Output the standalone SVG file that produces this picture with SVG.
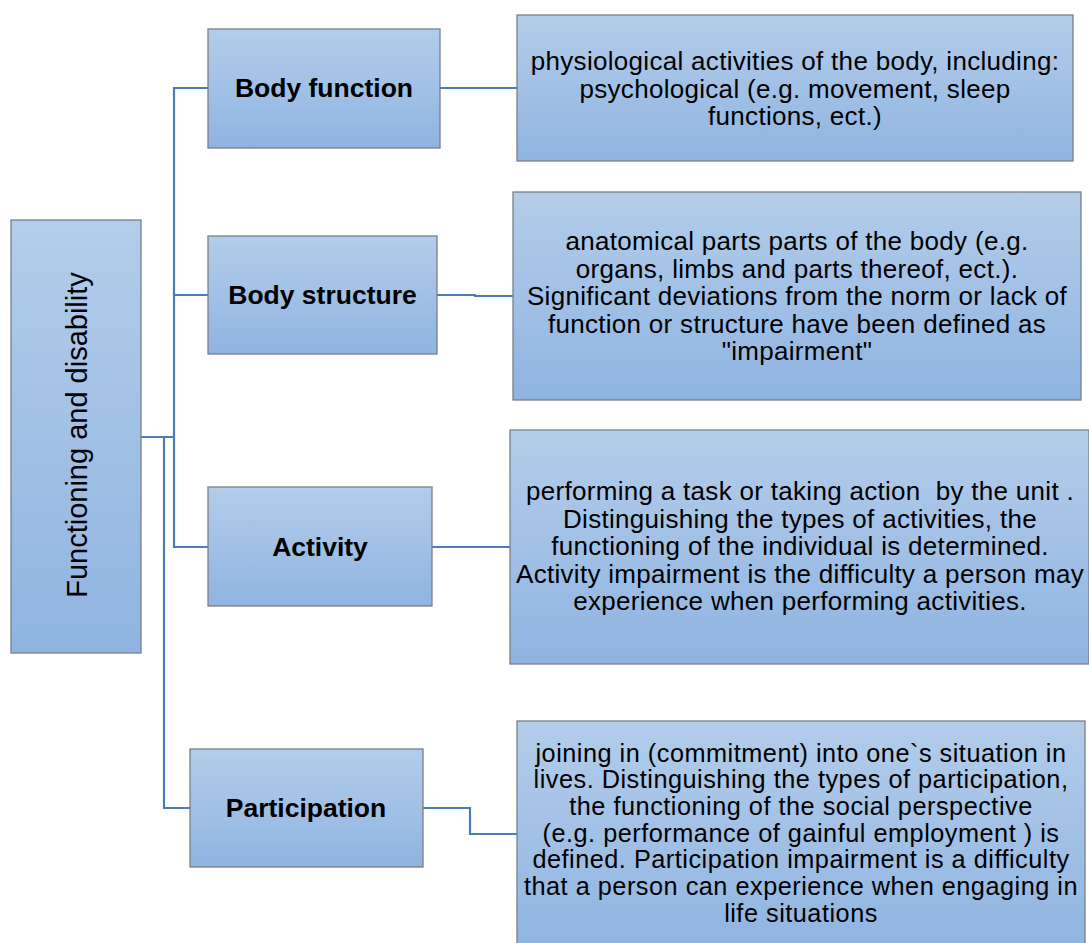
<svg xmlns="http://www.w3.org/2000/svg" width="1089" height="943" viewBox="0 0 1089 943">
<defs>
<linearGradient id="g" x1="0" y1="0" x2="0" y2="1">
<stop offset="0" stop-color="#b3cdea"/>
<stop offset="1" stop-color="#8fb4e1"/>
</linearGradient>
</defs>
<style>
.box{fill:url(#g);stroke:#7a7f86;stroke-width:1.3}
.lbl{font-family:"Liberation Sans",Arial,sans-serif;font-weight:bold;font-size:26.5px;fill:#000;text-anchor:middle}
.txt{font-family:"Liberation Sans",Arial,sans-serif;font-size:26px;letter-spacing:0.3px;fill:#000;text-anchor:middle}
.pt{font-size:25.3px;letter-spacing:0.5px}
.con{fill:none;stroke:#4a7db5;stroke-width:2.2}
</style>
<rect width="1089" height="943" fill="#fff"/>
<g id="connectors">
<polyline class="con" points="141,437 174,437"/>
<polyline class="con" points="208,88 174,88 174,547 208,547"/>
<polyline class="con" points="174,295 208,295"/>
<polyline class="con" points="164,437 164,808 190,808"/>
<polyline class="con" points="440,88 517,88"/>
<polyline class="con" points="437,295 475,295 475,296 513,296"/>
<polyline class="con" points="432,547 510,547"/>
<polyline class="con" points="423,808 470,808 470,834 517,834"/>
</g>
<g id="root">
<rect class="box" x="11" y="220" width="130" height="433"/>
<text class="txt" style="font-size:29px;letter-spacing:0" transform="translate(87,435) rotate(-90)" x="0" y="0">Functioning and disability</text>
</g>
<g id="body-function">
<rect class="box" x="208" y="29" width="232" height="119"/>
<text class="lbl" x="324" y="97">Body function</text>
</g>
<g id="body-structure">
<rect class="box" x="208" y="236" width="229" height="118"/>
<text class="lbl" x="322.5" y="304">Body structure</text>
</g>
<g id="activity">
<rect class="box" x="208" y="487" width="224" height="119"/>
<text class="lbl" x="320" y="556">Activity</text>
</g>
<g id="participation">
<rect class="box" x="190" y="749" width="233" height="118"/>
<text class="lbl" x="306" y="817">Participation</text>
</g>
<g id="body-function-desc">
<rect class="box" x="517" y="15" width="556" height="146"/>
<text class="txt" x="795" y="70">physiological activities of the body, including:</text>
<text class="txt" x="795" y="97.5">psychological (e.g. movement, sleep</text>
<text class="txt" x="795" y="125">functions, ect.)</text>
</g>
<g id="body-structure-desc">
<rect class="box" x="513" y="192" width="568" height="208"/>
<text class="txt" x="797" y="250">anatomical parts parts of the body (e.g.</text>
<text class="txt" x="797" y="277.5">organs, limbs and parts thereof, ect.).</text>
<text class="txt" x="797" y="305">Significant deviations from the norm or lack of</text>
<text class="txt" x="797" y="332.5">function or structure have been defined as</text>
<text class="txt" x="797" y="360">"impairment"</text>
</g>
<g id="activity-desc">
<rect class="box" x="510" y="430" width="579" height="234"/>
<text class="txt" x="800" y="500" xml:space="preserve">performing a task or taking action  by the unit .</text>
<text class="txt" x="800" y="527.5">Distinguishing the types of activities, the</text>
<text class="txt" x="800" y="555">functioning of the individual is determined.</text>
<text class="txt" x="800" y="582.5">Activity impairment is the difficulty a person may</text>
<text class="txt" x="800" y="610">experience when performing activities.</text>
</g>
<g id="participation-desc">
<rect class="box" x="517" y="721" width="568" height="230"/>
<text class="txt pt" x="801" y="761.5">joining in (commitment) into one`s situation in</text>
<text class="txt pt" x="801" y="788.2">lives. Distinguishing the types of participation,</text>
<text class="txt pt" x="801" y="814.9">the functioning of the social perspective</text>
<text class="txt pt" x="801" y="841.6">(e.g. performance of gainful employment ) is</text>
<text class="txt pt" x="801" y="868.3">defined. Participation impairment is a difficulty</text>
<text class="txt pt" x="801" y="895">that a person can experience when engaging in</text>
<text class="txt pt" x="801" y="921.7">life situations</text>
</g>
</svg>
